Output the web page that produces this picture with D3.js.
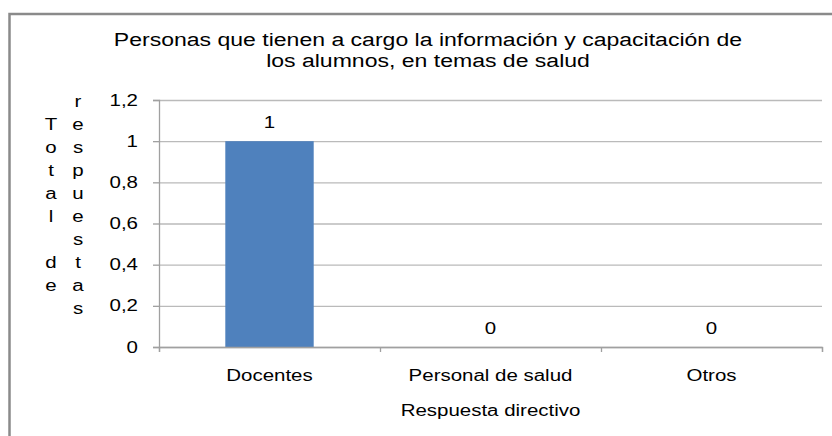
<!DOCTYPE html>
<html>
<head>
<meta charset="utf-8">
<script src="https://cdn.jsdelivr.net/npm/d3@7"></script>
<style>
  body { margin: 0; background: #fff; }
  text { font-family: "Liberation Sans", Arial, sans-serif; fill: #000; }
</style>
</head>
<body>
<div id="chart"></div>
<script>
// data
const categories = ["Docentes", "Personal de salud", "Otros"];
const values = [1, 0, 0];
const yTicks = [0, 0.2, 0.4, 0.6, 0.8, 1, 1.2];
const titleLines = ["Personas que tienen a cargo la información y capacitación de",
                    "los alumnos, en temas de salud"];
const yTitleCols = ["Total de", "respuestas"];
const xTitle = "Respuesta directivo";

const W = 832, H = 436;
const margin = {top: 100, right: 10, bottom: 89, left: 159};
const width = W - margin.left - margin.right;
const height = H - margin.top - margin.bottom;
const fontSize = 16;
const sx = 1.28;   // the text in the picture is drawn a bit wide

const es = d3.formatLocale({decimal: ",", thousands: ".", grouping: [3], currency: ["", "€"]});
const fmt = es.format(".1~f");

const svg = d3.select("#chart").append("svg")
    .attr("width", W)
    .attr("height", H);

// chart frame (cut off on the right and bottom)
svg.append("rect")
    .attr("x", 9.5).attr("y", 14)
    .attr("width", 900).attr("height", 500)
    .attr("fill", "none")
    .attr("stroke", "#8a8a8a")
    .attr("stroke-width", 2.5);

// helper: wide text at a point
function wideText(parent, x, y, str, size) {
    return parent.append("text")
        .attr("transform", "translate(" + x + "," + y + ") scale(" + sx + ",1)")
        .attr("text-anchor", "middle")
        .style("font-size", (size || fontSize) + "px")
        .text(str);
}

// title
titleLines.forEach((t, i) => wideText(svg, 428, 46 + i * 21, t, 18));

// stacked y title, one letter per row
const yColX = [51, 78];
yTitleCols.forEach((col, c) => {
    const chars = col.split("");
    chars.forEach((ch, i) => {
        if (ch === " ") return;
        wideText(svg, yColX[c], 210 + (i - (chars.length - 1) / 2) * 23, ch);
    });
});

const g = svg.append("g")
    .attr("transform", "translate(" + margin.left + "," + margin.top + ")");

const x = d3.scaleBand()
    .domain(categories)
    .range([0, width])
    .paddingInner(0.6)
    .paddingOuter(0.3);

const y = d3.scaleLinear()
    .domain([0, 1.2])
    .range([height, 0]);

// gridlines
g.append("g")
    .call(d3.axisLeft(y).tickValues(yTicks).tickSize(-width).tickFormat(""))
    .call(a => a.select(".domain").remove())
    .call(a => a.selectAll("line").attr("stroke", "#bababa").attr("stroke-width", 1.3));

// bars
g.selectAll(".bar")
    .data(values)
    .enter()
    .append("rect")
    .attr("class", "bar")
    .attr("x", (d, i) => x(categories[i]))
    .attr("width", x.bandwidth())
    .attr("y", d => y(d))
    .attr("height", d => height - y(d))
    .attr("fill", "#4f81bd");

// y axis
const yAxis = g.append("g")
    .call(d3.axisLeft(y).tickValues(yTicks).tickSize(6).tickFormat(fmt));
yAxis.select(".domain").attr("stroke", "#a0a0a0").attr("stroke-width", 1.3);
yAxis.selectAll(".tick line").attr("stroke", "#a0a0a0").attr("stroke-width", 1.3);
yAxis.selectAll(".tick text")
    .attr("x", null).attr("dy", "0.32em")
    .attr("transform", "translate(-21,0) scale(" + sx + ",1)")
    .style("font-size", fontSize + "px")
    .style("font-family", null);

// x axis ticks at the category boundaries
const xb = d3.scaleLinear().domain([0, categories.length]).range([0, width]);
g.append("g")
    .attr("transform", "translate(0," + height + ")")
    .call(d3.axisBottom(xb).ticks(categories.length).tickSize(5).tickFormat(""))
    .call(a => a.select(".domain").attr("stroke", "#a0a0a0").attr("stroke-width", 1.3))
    .call(a => a.selectAll(".tick line").attr("stroke", "#a0a0a0").attr("stroke-width", 1.3));

// category labels
const xAxis = g.append("g")
    .attr("transform", "translate(0," + height + ")")
    .call(d3.axisBottom(x).tickSize(0));
xAxis.select(".domain").remove();
xAxis.selectAll(".tick text")
    .attr("y", null).attr("dy", null)
    .attr("transform", "translate(0,34) scale(" + sx + ",1)")
    .style("font-size", fontSize + "px")
    .style("font-family", null);

// value labels
values.forEach((v, i) => {
    wideText(g, x(categories[i]) + x.bandwidth() / 2, y(v) - 13, String(v));
});

// x title
wideText(g, width / 2, height + 69, xTitle);
</script>
</body>
</html>
